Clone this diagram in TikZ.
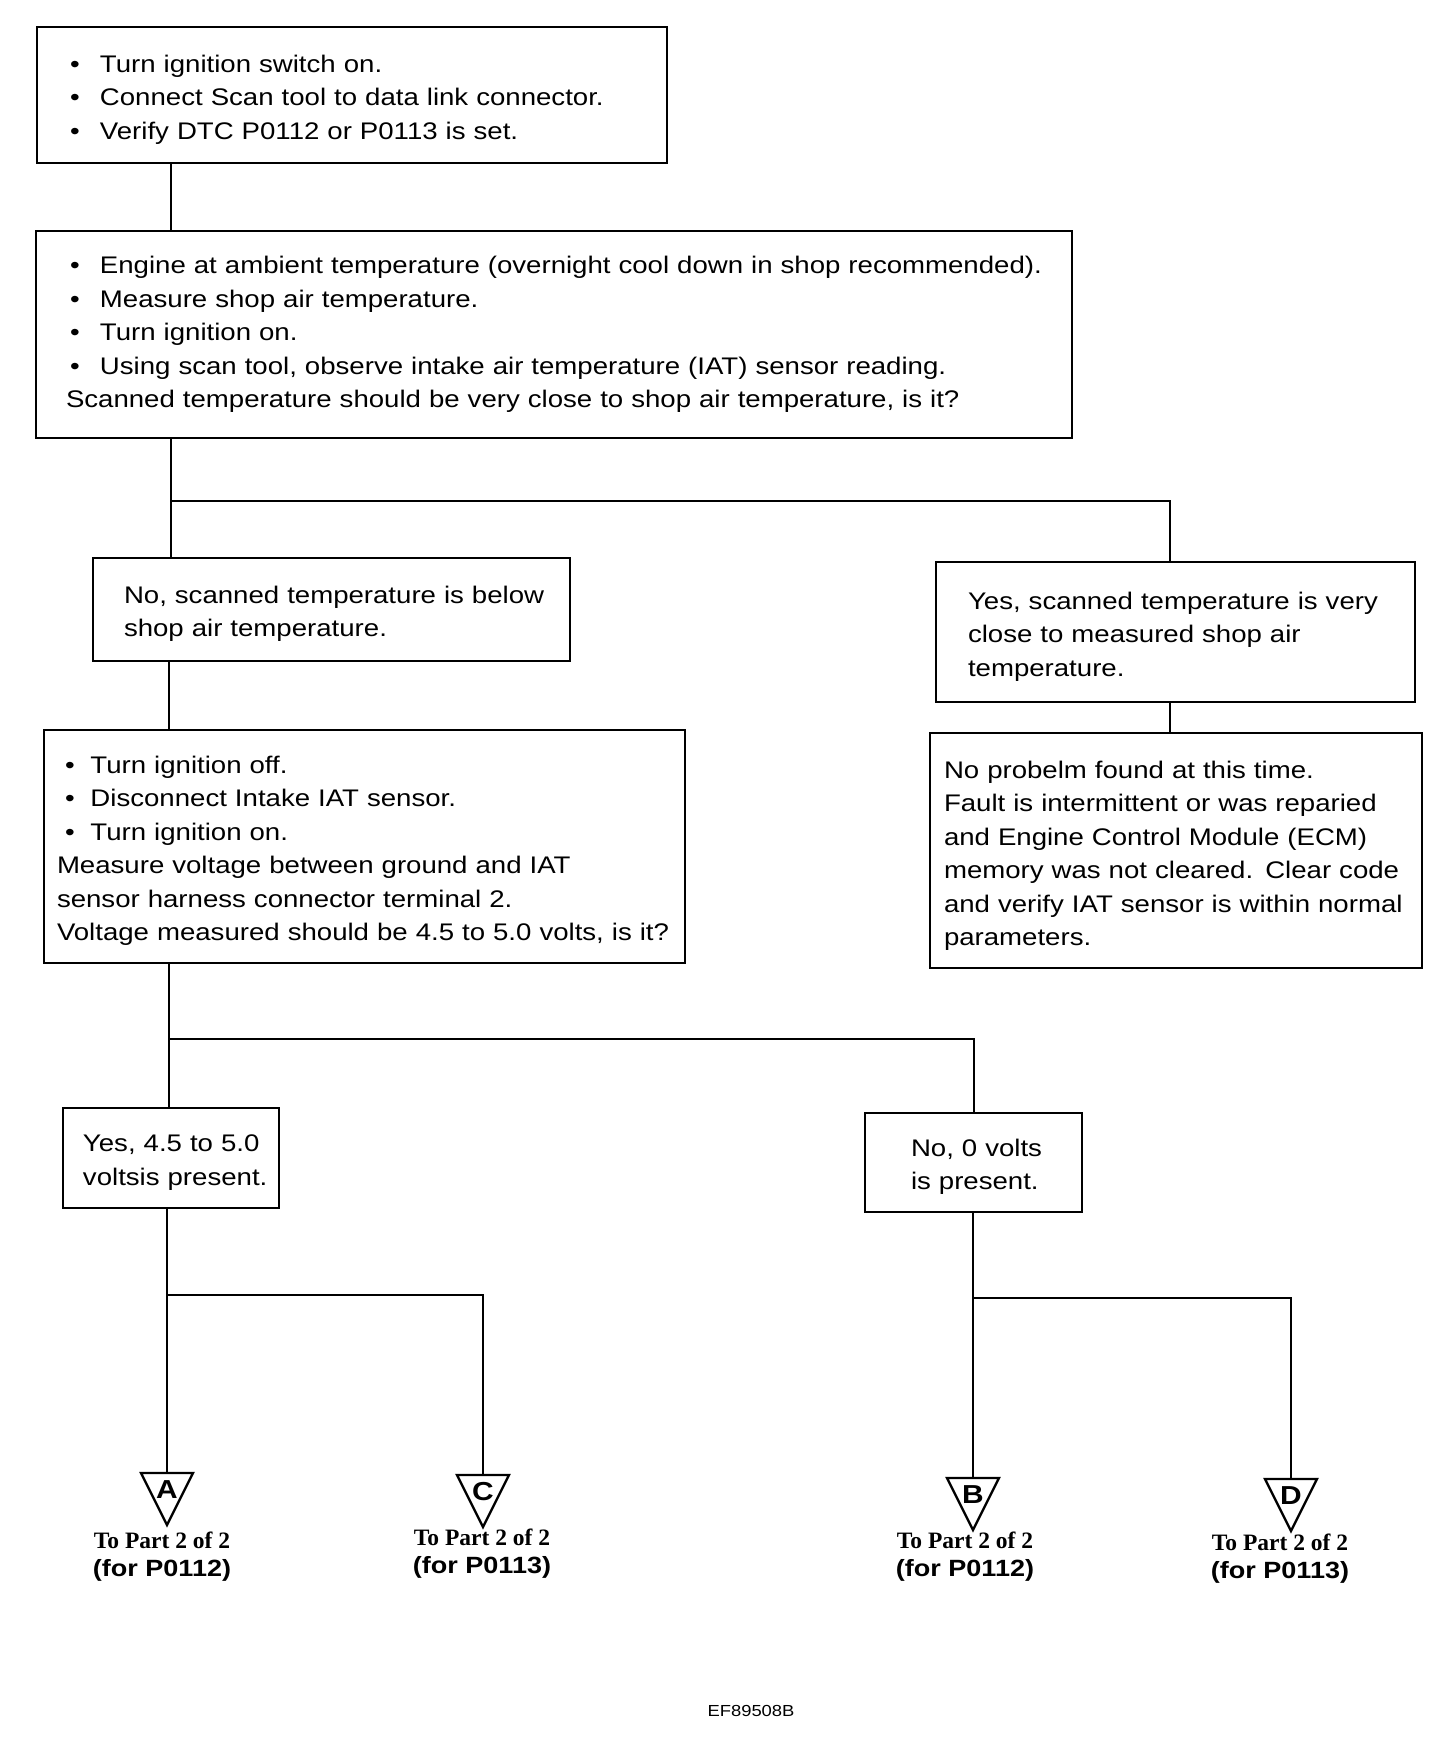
\documentclass[tikz,border=0pt]{standalone}
\usepackage{fontspec}
\setmainfont[FakeStretch=1.15]{Liberation Sans}
\newfontfamily\serifb{Liberation Serif}
\usetikzlibrary{calc}
\newcommand\bul[2]{\mbox{\makebox[#1][l]{\textbullet}#2}}
\newcommand\topstrut{\rule{0pt}{13pt}}
\begin{document}
\begin{tikzpicture}[x=0.5pt,y=-0.5pt,
  box/.style={draw, line width=1.4pt, inner ysep=0pt, align=left, font=\fontsize{12}{16.75}\selectfont},
  wire/.style={line width=1.4pt},
  tri/.style={draw, line width=1.2pt, line join=miter},
  letter/.style={inner sep=0pt, font=\bfseries\fontsize{13}{13}\selectfont},
  lab/.style={inner sep=0pt, align=center, font=\fontsize{11.75}{14}\selectfont},
  codelab/.style={inner sep=0pt, font=\fontsize{8}{9}\selectfont}]
\useasboundingbox (0,0) rectangle (1456,1752);

\node[box, minimum width=315pt, minimum height=68pt, inner xsep=16.5pt, text width=282pt] (b1) at (352,95)
 {\topstrut\bul{15pt}{Turn ignition switch on.}\\
  \bul{15pt}{Connect Scan tool to data link connector.}\\
  \bul{15pt}{Verify DTC P0112 or P0113 is set.}};

\node[box, minimum width=518pt, minimum height=103.5pt, inner xsep=17pt, text width=484pt] (b2) at (554,334.5)
 {\bul{15pt}{Engine at ambient temperature (overnight cool down in shop recommended).}\\
  \bul{15pt}{Measure shop air temperature.}\\
  \bul{15pt}{Turn ignition on.}\\
  \bul{15pt}{Using scan tool, observe intake air temperature (IAT) sensor reading.}\\
  \mbox{\hspace*{-2pt}Scanned temperature should be very close to shop air temperature, is it?}};

\node[box, minimum width=238.5pt, minimum height=51.5pt, inner xsep=15.5pt, text width=207.5pt] (b3) at (331.5,609.5)
 {\topstrut\mbox{No, scanned temperature is below}\\
  \mbox{shop air temperature.}};

\node[box, minimum width=239.5pt, minimum height=70pt, inner xsep=16pt, text width=207.5pt] (b4) at (1175.5,632)
 {\topstrut\mbox{Yes, scanned temperature is very}\\
  \mbox{close to measured shop air}\\
  \mbox{temperature.}};

\node[box, minimum width=320.5pt, minimum height=116.5pt, inner xsep=10.5pt, text width=299.5pt] (b5) at (364.5,846.5)
 {\topstrut\bul{12.75pt}{Turn ignition off.}\\
  \bul{12.75pt}{Disconnect Intake IAT sensor.}\\
  \bul{12.75pt}{Turn ignition on.}\\
  \mbox{\hspace*{-4pt}Measure voltage between ground and IAT}\\
  \mbox{\hspace*{-4pt}sensor harness connector terminal 2.}\\
  \mbox{\hspace*{-4pt}Voltage measured should be 4.5 to 5.0 volts, is it?}};

\node[box, minimum width=246pt, minimum height=117.5pt, inner xsep=7pt, text width=232pt] (b6) at (1176,850.5)
 {\rule{0pt}{14pt}\mbox{No probelm found at this time.}\\
  \mbox{Fault is intermittent or was reparied}\\
  \mbox{and Engine Control Module (ECM)}\\
  \mbox{memory was not cleared. Clear code}\\
  \mbox{and verify IAT sensor is within normal}\\
  \mbox{parameters.}};

\node[box, minimum width=108pt, minimum height=50pt, inner xsep=10pt, text width=88pt] (b7) at (171,1158)
 {\topstrut\mbox{Yes, 4.5 to 5.0}\\
  \mbox{voltsis present.}};

\node[box, minimum width=108.5pt, minimum height=49.5pt, inner xsep=23pt, text width=62.5pt] (b8) at (973.5,1162.5)
 {\topstrut\mbox{No, 0 volts}\\
  \mbox{is present.}};

\coordinate (j1) at (171,501);
\coordinate (j2) at (1170,501);
\coordinate (j3) at (169,1039);
\coordinate (j4) at (974,1039);
\coordinate (j5) at (167,1295);
\coordinate (j6) at (483,1295);
\coordinate (j7) at (973,1298);
\coordinate (j8) at (1291,1298);

\coordinate (tA) at (167,1473);
\coordinate (tC) at (483,1475);
\coordinate (tB) at (973,1478);
\coordinate (tD) at (1291,1479);

\draw[wire] (b1.south -| j1) -- (b2.north -| j1);
\draw[wire] (b2.south -| j1) -- (b3.north -| j1);
\draw[wire] (j1) -- (j2) -- (b4.north -| j2);
\draw[wire] (b3.south -| j3) -- (b5.north -| j3);
\draw[wire] (b4.south -| j2) -- (b6.north -| j2);
\draw[wire] (b5.south -| j3) -- (b7.north -| j3);
\draw[wire] (j3) -- (j4) -- (b8.north -| j4);
\draw[wire] (b7.south -| j5) -- (tA);
\draw[wire] (j5) -- (j6) -- (tC);
\draw[wire] (b8.south -| j7) -- (tB);
\draw[wire] (j7) -- (j8) -- (tD);

\draw[tri] (tA) ++(-26,0) -- ++(52,0) -- ++(-26,52) -- cycle;
\draw[tri] (tC) ++(-26,0) -- ++(52,0) -- ++(-26,52) -- cycle;
\draw[tri] (tB) ++(-26,0) -- ++(52,0) -- ++(-26,52) -- cycle;
\draw[tri] (tD) ++(-26,0) -- ++(52,0) -- ++(-26,52) -- cycle;

\node[letter] (lA) at (167,1490) {A};
\node[letter] (lC) at (483,1492) {C};
\node[letter] (lB) at (973,1495) {B};
\node[letter] (lD) at (1291,1496) {D};

\node[lab] (labA) at (162,1557) {{\serifb\bfseries To Part 2 of 2}\\{\bfseries (for P0112)}};
\node[lab] (labC) at (482,1554) {{\serifb\bfseries To Part 2 of 2}\\{\bfseries (for P0113)}};
\node[lab] (labB) at (965,1557) {{\serifb\bfseries To Part 2 of 2}\\{\bfseries (for P0112)}};
\node[lab] (labD) at (1280,1559) {{\serifb\bfseries To Part 2 of 2}\\{\bfseries (for P0113)}};

\node[codelab] (code) at (751,1711) {EF89508B};
\end{tikzpicture}
\end{document}
